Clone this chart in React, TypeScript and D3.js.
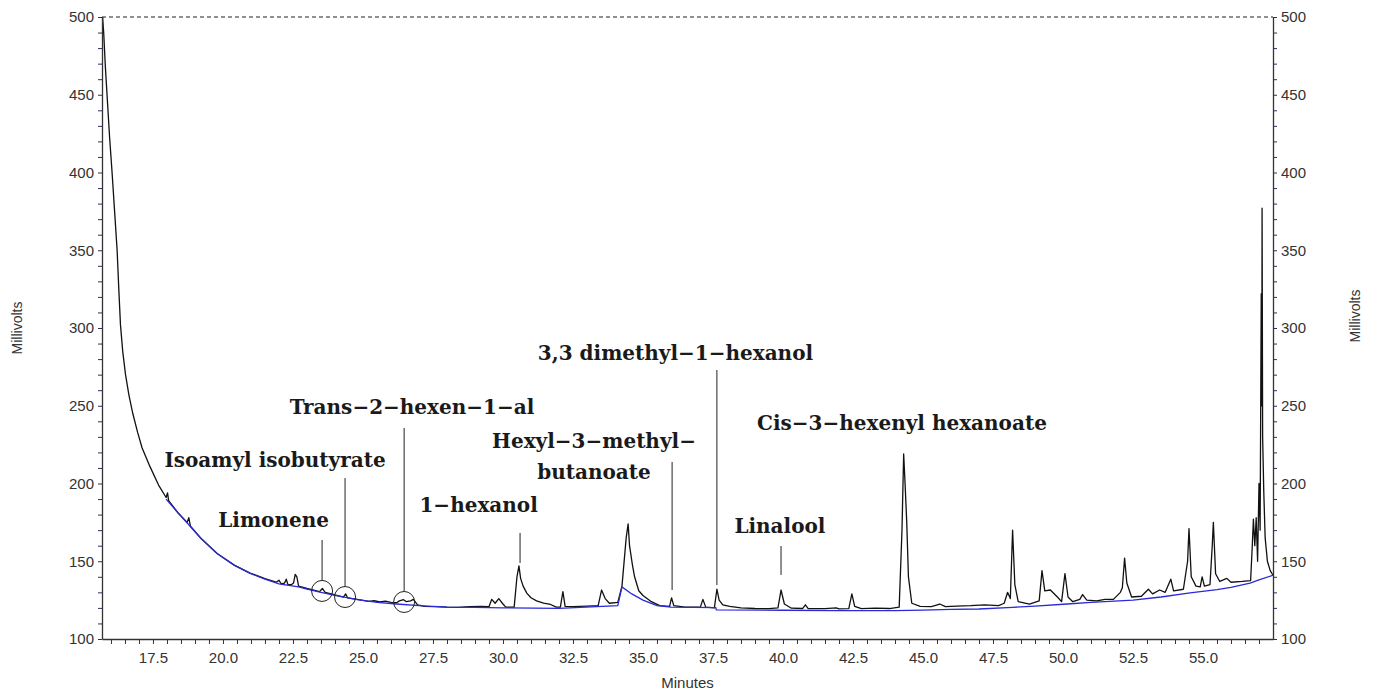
import React, { useEffect, useRef } from "react";
import * as d3 from "d3";

// chromatogram trace (minutes, millivolts)
const signalTime = [
  15.7, 15.74, 15.8, 15.86, 15.95, 16.04, 16.13, 16.22, 16.28, 16.34, 16.42, 16.52, 16.64, 16.78, 16.95, 17.11, 17.39, 17.7, 17.97, 18.02, 18.06,
  18.4, 18.72, 18.78, 18.84, 19.2, 19.79, 20.4, 20.97, 21.5, 21.9, 22.0, 22.08, 22.2, 22.26, 22.32, 22.45, 22.52, 22.58,
  22.64, 22.7, 23.0, 23.45, 23.55, 23.65, 24.0, 24.3, 24.38, 24.45, 24.8, 25.2, 25.4, 25.6, 25.8, 26.0, 26.2, 26.3, 26.45,
  26.55, 26.7, 26.8, 26.95, 27.2, 27.6, 28.0, 28.4, 28.8, 29.2, 29.5, 29.6, 29.72, 29.85, 30.0, 30.1, 30.4, 30.5, 30.57,
  30.63, 30.72, 30.85, 31.0, 31.2, 31.45, 31.7, 31.9, 32.05, 32.14, 32.22, 32.5, 33.0, 33.4, 33.52, 33.65, 33.8, 34.1,
  34.25, 34.4, 34.47, 34.52, 34.62, 34.7, 34.85, 35.0, 35.3, 35.6, 35.95, 36.02, 36.1, 36.5, 37.05, 37.14, 37.24, 37.55,
  37.64, 37.72, 37.85, 38.1, 38.5, 39.0, 39.5, 39.82, 39.93, 40.05, 40.3, 40.7, 40.8, 40.9, 41.5, 41.9, 42.0, 42.35, 42.46,
  42.56, 42.8, 43.3, 43.8, 44.15, 44.25, 44.31, 44.36, 44.42, 44.48, 44.6, 44.9, 45.3, 45.6, 45.8, 46.2, 46.7, 47.2, 47.7,
  47.9, 48.02, 48.12, 48.2, 48.28, 48.4, 48.8, 49.15, 49.25, 49.35, 49.55, 49.8, 49.95, 50.07, 50.18, 50.35, 50.6, 50.7,
  50.85, 51.2, 51.5, 51.8, 52.05, 52.12, 52.2, 52.28, 52.45, 52.8, 53.05, 53.2, 53.45, 53.65, 53.85, 53.95, 54.3, 54.45,
  54.5, 54.58, 54.75, 54.9, 54.97, 55.05, 55.25, 55.33, 55.37, 55.45, 55.6, 55.85, 56.0, 56.4, 56.7, 56.76, 56.8, 56.85,
  56.9, 56.95, 57.0, 57.04, 57.08, 57.1, 57.11, 57.13, 57.17, 57.22, 57.3, 57.4, 57.5,
];
const signalMv = [
  500, 490, 468, 450, 423, 400, 375, 350, 325, 302, 285, 270, 257, 245, 233, 223, 211, 199, 191, 194, 189,
  181, 175, 178, 172.5, 165, 155, 147.5, 142.4, 138.8, 136.5, 137.8, 135.5, 136, 138.5, 135, 135, 136, 141.5,
  140, 134, 132.5, 130.5, 132.5, 130, 128.3, 127, 129, 126.5, 125.5, 124.2, 124.6, 123.8, 124.3, 123.5, 123.3, 124.5, 125.3,
  124, 124.5, 125.5, 122, 121, 120.8, 120.5, 120.4, 120.8, 121, 120.8, 125.5, 123, 126, 122.5, 120.5, 120.5, 140, 147,
  139, 134, 129.5, 126.5, 124.5, 123, 122.2, 120.5, 120.5, 130.5, 121, 120.8, 121.2, 121.5, 131.5, 126, 123, 123.5,
  134, 165, 174, 160, 148, 140, 131, 128, 124, 121.5, 121, 126.5, 121.5, 120.5, 120.5, 125.5, 120.5, 120,
  132, 125, 122, 121, 120, 119.6, 119.5, 120, 131.5, 122.5, 119.8, 119.6, 122, 119.6, 119.5, 120, 119.4, 119.5, 129,
  121, 119.5, 119.8, 119.6, 120.5, 170, 219, 200, 175, 140, 123, 121, 120.8, 122.5, 120.8, 121.2, 121.5, 122, 121.5,
  123, 130, 126, 170, 135, 124, 122.5, 124.5, 144, 131, 131.5, 127, 124, 142, 127, 124, 125.5, 128.5,
  125, 124.5, 125.5, 125.5, 130, 133, 152, 136, 127, 127.5, 132, 129, 131.5, 130, 138.5, 131, 132, 150,
  171, 140, 134, 133.5, 140, 134, 135, 160, 175, 142, 137, 139, 136.5, 137, 137.5, 160, 177, 160,
  178, 150, 200, 170, 322, 250, 377, 230, 195, 165, 150, 144, 141,
];

// integration baseline (blue)
const baselineTime = [
  17.97, 18.4, 18.78, 19.2, 19.79, 20.4, 20.97, 21.5, 22.0, 22.7, 23.0, 23.5, 24.0, 24.8, 25.5, 26.2, 27.0, 28.0, 29.0,
  30.0, 32.0, 34.1, 34.25, 34.6, 35.0, 35.5, 36.0, 37.6, 37.62, 40.0, 42.0, 44.0, 45.0, 46.0, 47.0, 48.2, 49.0, 50.15,
  51.0, 52.5, 53.5, 54.54, 55.5, 56.0, 56.68, 57.0, 57.5,
];
const baselineMv = [
  190, 181, 173.5, 165, 155, 147.5, 142.2, 138.5, 135.5, 133.5, 132, 130, 128, 125.3, 123.6, 122.5, 121.5, 120.5, 120.3,
  120, 119.7, 121.5, 133.5, 129, 125, 121.5, 120.5, 120.2, 118.7, 118.5, 118.3, 118.3, 118.6, 119, 119.3, 120.4, 121.2, 122.5,
  123.5, 125, 127, 129.6, 131.8, 133.2, 136, 138, 141,
];

// peak annotations
const labelText = [
  ["Isoamyl isobutyrate"],
  ["Limonene"],
  ["Trans−2−hexen−1−al"],
  ["1−hexanol"],
  ["Hexyl−3−methyl−", "butanoate"],
  ["3,3 dimethyl−1−hexanol"],
  ["Cis−3−hexenyl hexanoate"],
  ["Linalool"],
];
const labelX = [21.86, 21.81, 26.75, 29.13, 33.25, 36.16, 44.25, 39.89];
const labelY = [210.6, 172, 244.7, 181.7, 222.8, 279.4, 234.4, 168.2];
const peakTime = [24.36, 23.54, 26.47, 30.61, 36.04, 37.64, null, 39.93];
const leaderTop = [203.5, 163.7, 235.7, 168.2, 213.8, 273, null, 159.8];
const leaderBottom = [null, null, null, 148.9, 131.5, 134.7, null, 141.2];
const circleMv = [127, 130.9, 123.8, null, null, null, null, null];

const W = 1379;
const H = 693;
const m = { left: 102, right: 106, top: 17, bottom: 54 };

export default function App() {
  const leftRef = useRef<SVGGElement>(null);
  const rightRef = useRef<SVGGElement>(null);
  const bottomRef = useRef<SVGGElement>(null);

  const x = d3.scaleLinear().domain([15.68, 57.5]).range([m.left, W - m.right]);
  const y = d3.scaleLinear().domain([100, 500]).range([H - m.bottom, m.top]);

  const sig = signalTime.map((t, i) => [t, signalMv[i]] as [number, number]);
  const base = baselineTime.map((t, i) => [t, baselineMv[i]] as [number, number]);
  const line = d3.line<[number, number]>().x(d => x(d[0])).y(d => y(d[1]));

  useEffect(() => {
    const yTicks = d3.range(10, 51).map(i => i * 10);
    const fmtY = (d: any) => (d % 50 === 0 ? String(d) : "");
    const xTicks = d3.range(32, 115).map(i => i / 2);
    const fmtX = (d: any) => (Math.round(d * 2) % 5 === 0 ? d3.format(".1f")(d) : "");

    const style = (g: any) => {
      g.select(".domain").attr("stroke", "#333").attr("stroke-width", 1.3);
      g.selectAll(".tick line").attr("stroke", "#2e2e60");
      g.selectAll(".tick text")
        .attr("fill", "#333")
        .style("font-family", "'Liberation Sans', Arial, sans-serif")
        .style("font-size", "15px");
    };

    const gl = d3.select(leftRef.current);
    gl.selectAll("*").remove();
    gl.call(d3.axisLeft(y).tickValues(yTicks).tickFormat(fmtY).tickSize(4).tickPadding(4).tickSizeOuter(0) as any);
    style(gl);

    const gr = d3.select(rightRef.current);
    gr.selectAll("*").remove();
    gr.call(d3.axisRight(y).tickValues(yTicks).tickFormat(fmtY).tickSize(4).tickPadding(4).tickSizeOuter(0) as any);
    style(gr);

    const gb = d3.select(bottomRef.current);
    gb.selectAll("*").remove();
    gb.call(d3.axisBottom(x).tickValues(xTicks).tickFormat(fmtX).tickSize(5).tickPadding(8).tickSizeOuter(0) as any);
    style(gb);
  }, []);

  const serif = "'DejaVu Serif', serif";

  return (
    <svg width={W} height={H} style={{ position: "absolute", left: 0, top: 0, background: "#fff" }}>
      <line x1={x(15.68)} x2={x(57.5)} y1={y(500)} y2={y(500)} stroke="#222" strokeWidth={1.2} strokeDasharray="4,3" />
      <path d={line(sig) || ""} fill="none" stroke="#111" strokeWidth={1.3} strokeLinejoin="round" />
      <path d={line(base) || ""} fill="none" stroke="#2a2ad8" strokeWidth={1.3} />

      {labelText.map((lines, i) => (
        <g key={i}>
          {lines.map((s, j) => (
            <text
              key={j}
              x={x(labelX[i])}
              y={y(labelY[i]) + j * 31}
              textAnchor="middle"
              fontFamily={serif}
              fontWeight="bold"
              fontSize={20}
              fill="#1a1a1a"
            >
              {s}
            </text>
          ))}
          {peakTime[i] !== null && (
            <line
              x1={x(peakTime[i] as number)}
              x2={x(peakTime[i] as number)}
              y1={y(leaderTop[i] as number)}
              y2={circleMv[i] !== null ? y(circleMv[i] as number) - 10.5 : y(leaderBottom[i] as number)}
              stroke="#222"
              strokeWidth={1}
            />
          )}
          {circleMv[i] !== null && (
            <circle cx={x(peakTime[i] as number)} cy={y(circleMv[i] as number)} r={10.5} fill="none" stroke="#222" strokeWidth={1} />
          )}
        </g>
      ))}

      <g ref={leftRef} transform={`translate(${m.left},0)`} />
      <g ref={rightRef} transform={`translate(${W - m.right},0)`} />
      <g ref={bottomRef} transform={`translate(0,${H - m.bottom})`} />

      <text
        transform={`translate(22,${(m.top + H - m.bottom) / 2}) rotate(-90)`}
        textAnchor="middle"
        fontFamily="'Liberation Sans', Arial, sans-serif"
        fontSize={14}
        fill="#333"
      >
        Millivolts
      </text>
      <text
        transform={`translate(1360,316) rotate(-90)`}
        textAnchor="middle"
        fontFamily="'Liberation Sans', Arial, sans-serif"
        fontSize={14}
        fill="#333"
      >
        Millivolts
      </text>
      <text
        x={(m.left + W - m.right) / 2}
        y={688}
        textAnchor="middle"
        fontFamily="'Liberation Sans', Arial, sans-serif"
        fontSize={15}
        fill="#333"
      >
        Minutes
      </text>
    </svg>
  );
}
